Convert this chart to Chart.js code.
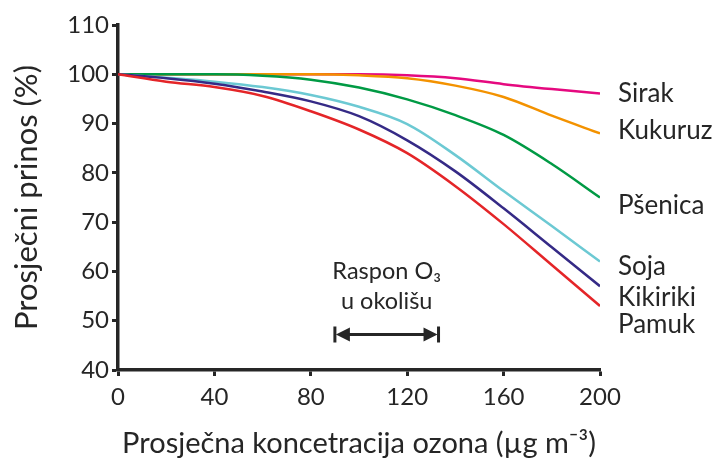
<!DOCTYPE html>
<html>
<head>
<meta charset="utf-8">
<script src="https://cdn.jsdelivr.net/npm/chart.js@4"></script>
<style>
  html, body { margin: 0; padding: 0; background: #fff; }
  #wrap { width: 727px; height: 465px; }
</style>
</head>
<body>
<div id="wrap"><canvas id="ozone-chart" width="727" height="465"></canvas></div>
<script>
const ozone = [0, 20, 40, 60, 80, 100, 120, 140, 160, 180, 200];
const crops = ['Sirak', 'Kukuruz', 'Pšenica', 'Soja', 'Kikiriki', 'Pamuk'];
const sirak    = [100, 100, 100, 100, 100, 100, 99.8, 99.2, 98, 97, 96.1];
const kukuruz  = [100, 100, 100, 100, 100, 99.8, 99.2, 97.7, 95.4, 91.6, 88];
const psenica  = [100, 100, 100, 99.7, 98.9, 97.3, 94.9, 91.7, 87.7, 81.8, 75];
const soja     = [100, 99.3, 98.5, 97.4, 95.8, 93.4, 89.9, 83.6, 76.3, 69.2, 62];
const kikiriki = [100, 99.2, 98.1, 96.5, 94.5, 91.5, 86.6, 80.3, 72.8, 64.9, 57];
const pamuk    = [100, 98.5, 97.4, 95.6, 92.5, 88.8, 84, 77.3, 69.6, 61.3, 53];
const xTicks = [0, 40, 80, 120, 160, 200];
const yTicks = [40, 50, 60, 70, 80, 90, 100, 110];
// ambient O3 range shown by the arrow
const ambientRange = [90, 133];

const colors = ['#e5097f', '#f39200', '#009a44', '#6cc9d3', '#352a86', '#e42528'];
const seriesValues = [sirak, kukuruz, psenica, soja, kikiriki, pamuk];
const labelShift = [0, -3, 8, 5, 11, 19]; // px, to spread the end labels
const axisColor = '#262626';
const textColor = '#262626';
const fontName = 'Lato, "Open Sans", sans-serif';

// end-of-line crop labels
const cropLabels = {
    id: 'cropLabels',
    afterDatasetsDraw(chart) {
        const ctx = chart.ctx;
        const y = chart.scales.y;
        ctx.save();
        ctx.font = '26px ' + fontName;
        ctx.fillStyle = textColor;
        ctx.textBaseline = 'middle';
        crops.forEach((name, i) => {
            const vals = seriesValues[i];
            ctx.fillText(name, chart.chartArea.right + 18, y.getPixelForValue(vals[vals.length - 1]) + labelShift[i]);
        });
        ctx.restore();
    }
};

// "Raspon O3 u okolišu" with double arrow
const rangeArrow = {
    id: 'rangeArrow',
    afterDatasetsDraw(chart) {
        const ctx = chart.ctx;
        const x = chart.scales.x;
        const y = chart.scales.y;
        const x1 = x.getPixelForValue(ambientRange[0]);
        const x2 = x.getPixelForValue(ambientRange[1]);
        const ya = y.getPixelForValue(47.2);
        ctx.save();
        ctx.strokeStyle = axisColor;
        ctx.fillStyle = axisColor;
        ctx.lineWidth = 3;
        ctx.beginPath();
        ctx.moveTo(x1 + 8, ya); ctx.lineTo(x2 - 8, ya);
        ctx.moveTo(x1, ya - 8); ctx.lineTo(x1, ya + 8);
        ctx.moveTo(x2, ya - 8); ctx.lineTo(x2, ya + 8);
        ctx.stroke();
        ctx.beginPath();
        ctx.moveTo(x1 + 1, ya); ctx.lineTo(x1 + 15, ya - 7); ctx.lineTo(x1 + 15, ya + 7); ctx.closePath();
        ctx.moveTo(x2 - 1, ya); ctx.lineTo(x2 - 15, ya - 7); ctx.lineTo(x2 - 15, ya + 7); ctx.closePath();
        ctx.fill();
        ctx.font = '23.5px ' + fontName;
        ctx.textAlign = 'center';
        ctx.textBaseline = 'middle';
        const cx = (x1 + x2) / 2;
        ctx.fillText('Raspon O₃', cx, ya - 63);
        ctx.fillText('u okolišu', cx, ya - 33);
        ctx.restore();
    }
};

new Chart(document.getElementById('ozone-chart'), {
    type: 'line',
    data: {
        labels: ozone,
        datasets: crops.map((name, i) => ({
            label: name,
            data: ozone.map((v, j) => ({ x: v, y: seriesValues[i][j] })),
            borderColor: colors[i],
            borderWidth: 2.5,
            pointRadius: 0,
            cubicInterpolationMode: 'monotone',
            fill: false
        })).reverse()
    },
    options: {
        responsive: false,
        animation: false,
        layout: { padding: { left: 0, right: 127, top: 25, bottom: 0 } },
        plugins: {
            legend: { display: false },
            tooltip: { enabled: false }
        },
        scales: {
            x: {
                type: 'linear',
                min: 0,
                max: 200,
                afterBuildTicks: s => { s.ticks = xTicks.map(v => ({ value: v })); },
                afterFit: s => { s.height = 95; },
                border: { display: true, color: axisColor, width: 3.5 },
                grid: { drawOnChartArea: false, drawTicks: true, tickLength: 6, tickWidth: 3, color: axisColor },
                ticks: { color: textColor, padding: 7, font: { family: fontName, size: 24 } },
                title: { display: true, text: 'Prosječna koncetracija ozona (µg m⁻³)', color: textColor, padding: { top: 2 }, font: { family: fontName, size: 29 } }
            },
            y: {
                min: 40,
                max: 110,
                afterBuildTicks: s => { s.ticks = yTicks.map(v => ({ value: v })); },
                afterFit: s => { s.width = 118; },
                border: { display: true, color: axisColor, width: 3.5 },
                grid: { drawOnChartArea: false, drawTicks: true, tickLength: 6, tickWidth: 3, color: axisColor },
                ticks: { color: textColor, padding: 3, font: { family: fontName, size: 24 } },
                title: { display: true, text: 'Prosječni prinos (%)', color: textColor, padding: { top: 8, bottom: 0 }, font: { family: fontName, size: 31 } }
            }
        }
    },
    plugins: [cropLabels, rangeArrow]
});
</script>
</body>
</html>
